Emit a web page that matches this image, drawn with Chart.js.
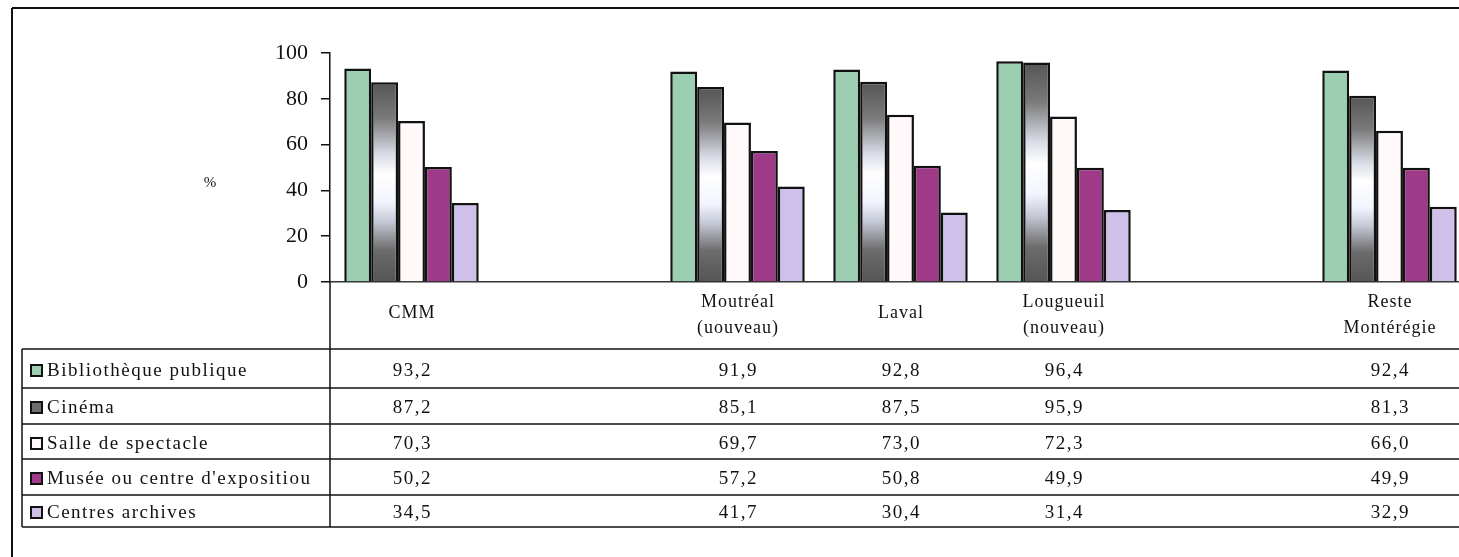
<!DOCTYPE html>
<html>
<head>
<meta charset="utf-8">
<script src="https://cdn.jsdelivr.net/npm/chart.js@4.4.1/dist/chart.umd.min.js"></script>
<style>
html, body { margin: 0; padding: 0; background: #fff; overflow: hidden; }
#wrap { position: relative; width: 1480px; height: 557px; }
</style>
</head>
<body>
<div id="wrap"><canvas id="myChart"></canvas></div>
<script>
// Regions (the empty slots keep the gaps between groups)
const regions = [["CMM"], [], ["Moutréal", "(uouveau)"], ["Laval"], ["Lougueuil", "(nouveau)"], [], ["Reste", "Montérégie"]];
const seriesNames = ["Bibliothèque publique", "Cinéma", "Salle de spectacle", "Musée ou centre d'expositiou", "Centres archives"];

// % by region
const bibliotheque = [93.2, null, 91.9, 92.8, 96.4, null, 92.4];
const cinema       = [87.2, null, 85.1, 87.5, 95.9, null, 81.3];
const salle        = [70.3, null, 69.7, 73.0, 72.3, null, 66.0];
const musee        = [50.2, null, 57.2, 50.8, 49.9, null, 49.9];
const archives     = [34.5, null, 41.7, 30.4, 31.4, null, 32.9];

const yMin = 0, yMax = 100, yStep = 20;

const seriesValues = [bibliotheque, cinema, salle, musee, archives];
const keyColors = ["#9ccfb1", "#6e6e6e", "#fff9fa", "#9e3a88", "#cfc0ea"];

// grey "cinema" fill: gradient across each bar
function cinemaFill(c) {
    const chart = c.chart;
    if (!chart.chartArea || c.raw == null) return "#888";
    const y = chart.scales.y;
    const top = y.getPixelForValue(c.raw);
    const base = y.getPixelForValue(0);
    const g = chart.ctx.createLinearGradient(0, top, 0, base);
    g.addColorStop(0, "#555555");
    g.addColorStop(0.18, "#7a7a7a");
    g.addColorStop(0.36, "#d8dce6");
    g.addColorStop(0.46, "#ffffff");
    g.addColorStop(0.6, "#f2f5ff");
    g.addColorStop(0.7, "#c4c8d4");
    g.addColorStop(0.84, "#6c6c6c");
    g.addColorStop(1, "#555555");
    return g;
}

const fills = [keyColors[0], cinemaFill, keyColors[2], keyColors[3], keyColors[4]];

// table under the plot
const rowLines = [349, 388, 424, 459, 495, 527];
const rowText = [371, 408, 444, 479, 513];

function line(ctx, x1, y1, x2, y2, w) {
    ctx.lineWidth = w || 1.5;
    ctx.beginPath();
    ctx.moveTo(x1, y1);
    ctx.lineTo(x2, y2);
    ctx.stroke();
}

const tablePlugin = {
    id: "dataTable",
    afterDraw(chart) {
        const ctx = chart.ctx;
        const x = chart.scales.x;
        const y = chart.scales.y;
        const right = chart.width;
        const last = rowLines[rowLines.length - 1];
        ctx.save();
        ctx.strokeStyle = "#111";

        // outer frame
        line(ctx, 12, 8, right, 8, 2);
        line(ctx, 12, 8, 12, 557, 2);

        // y axis carried down through the table
        line(ctx, x.left, y.bottom, x.left, last);
        line(ctx, 22, rowLines[0], 22, last);
        rowLines.forEach(ry => line(ctx, 22, ry, right, ry));

        ctx.fillStyle = "#111";
        ctx.textBaseline = "middle";

        // % label
        ctx.font = '15px "Liberation Serif"';
        ctx.textAlign = "center";
        ctx.fillText("%", 210, y.getPixelForValue(43));

        // category header
        ctx.font = '18px "Liberation Serif"';
        ctx.letterSpacing = "1px";
        regions.forEach((lines, i) => {
            const cx = x.getPixelForValue(i) + 0.5;
            if (lines.length === 1) ctx.fillText(lines[0], cx, 313);
            else lines.forEach((t, k) => ctx.fillText(t, cx, 302 + 26 * k));
        });

        // rows
        ctx.font = '19px "Liberation Serif"';
        seriesNames.forEach((name, r) => {
            const ty = rowText[r];
            ctx.fillStyle = keyColors[r];
            ctx.fillRect(31, ty - 6, 11, 11);
            ctx.lineWidth = 2;
            ctx.strokeRect(31, ty - 6, 11, 11);
            ctx.fillStyle = "#111";
            ctx.textAlign = "left";
            ctx.letterSpacing = "1.5px";
            ctx.fillText(name, 47, ty);
            ctx.textAlign = "center";
            seriesValues[r].forEach((v, i) => {
                if (v == null) return;
                ctx.fillText(v.toFixed(1).replace(".", ","), x.getPixelForValue(i) + 0.75, ty);
            });
        });
        ctx.restore();
    }
};

const ctx = document.getElementById("myChart").getContext("2d");
new Chart(ctx, {
    type: "bar",
    data: {
        labels: regions.map(r => r.join(" ")),
        datasets: seriesNames.map((name, i) => ({
            label: name,
            data: seriesValues[i],
            backgroundColor: fills[i],
            borderColor: "#111",
            borderWidth: 2.5,
            barPercentage: 1,
            categoryPercentage: 0.825
        }))
    },
    options: {
        responsive: true,
        maintainAspectRatio: false,
        animation: false,
        layout: { padding: { top: 53, right: 9, left: 0, bottom: 0 } },
        plugins: { legend: { display: false }, tooltip: { enabled: false } },
        scales: {
            x: {
                ticks: { display: false },
                grid: { display: false },
                border: { display: true, color: "#333", width: 1.5 },
                afterFit(scale) { scale.height = 557 - 282; }
            },
            y: {
                min: yMin,
                max: yMax,
                ticks: { stepSize: yStep, color: "#111", padding: 13, font: { family: "Liberation Serif", size: 22 } },
                grid: { drawOnChartArea: false, drawTicks: true, tickLength: 9, color: "#111", lineWidth: 1.5 },
                border: { display: true, color: "#111", width: 1.5 },
                afterFit(scale) { scale.width = 330; }
            }
        }
    },
    plugins: [tablePlugin]
});
</script>
</body>
</html>
